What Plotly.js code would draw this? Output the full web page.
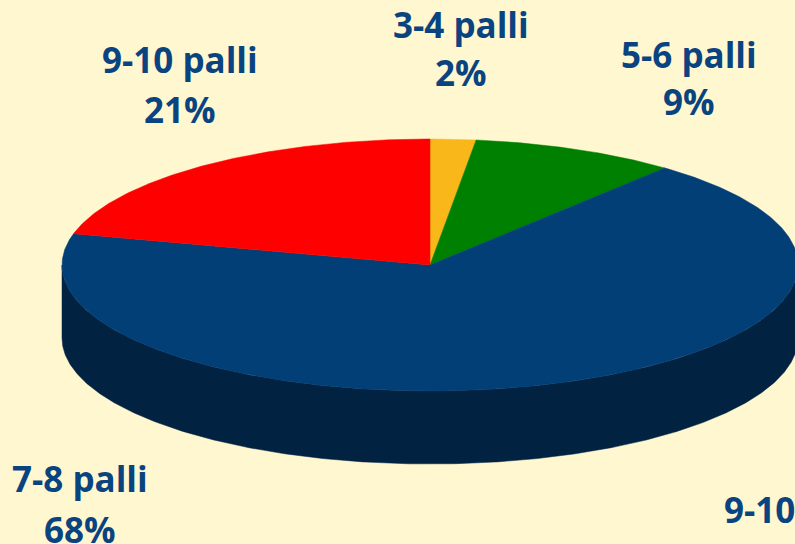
<!DOCTYPE html>
<html>
<head>
<meta charset="utf-8">
<script src="https://cdn.plot.ly/plotly-3.0.1.min.js"></script>
<style>html,body{margin:0;padding:0;background:#FFF7D0;}#chart{width:795px;height:544px;}</style>
</head>
<body>
<div id="chart"></div>
<script>
// ---- data ----
const labels = ['3-4 palli', '5-6 palli', '7-8 palli', '9-10 palli'];
const values = [2, 9, 68, 21];
const topColors = ['#F9B719', '#008000', '#033F77', '#FF0000'];
const sideColors = ['#7C5A0C', '#004000', '#012240', '#800000'];

// ---- layout geometry (pixels) ----
const W = 795, H = 544;
const CX = 430, CY = 265, RX = 368, RY = 126, DEPTH = 73;
const labelPos = [[461, 24, 72], [689, 54, 101], [80, 478, 529], [180, 59, 109]];
const textColor = '#0A4480';
const bg = '#FFF7D0';

function pt(deg, dy) {
  const r = deg * Math.PI / 180;
  return [CX + RX * Math.sin(r), CY - RY * Math.cos(r) + (dy || 0)];
}

const total = values.reduce((a, b) => a + b, 0);
const slices = [];
let acc = 0;
values.forEach((v, i) => {
  const a0 = acc / total * 360;
  acc += v;
  const a1 = acc / total * 360;
  slices.push([a0, a1]);
});

const traces = [];
// side walls (front half: 90..270 deg)
slices.forEach(([a0, a1], i) => {
  const s = Math.max(a0, 90), e = Math.min(a1, 270);
  if (e <= s) return;
  const xs = [], ys = [];
  const n = Math.max(2, Math.ceil((e - s) * 2));
  for (let k = 0; k <= n; k++) { const p = pt(s + (e - s) * k / n); xs.push(p[0]); ys.push(p[1]); }
  for (let k = n; k >= 0; k--) { const p = pt(s + (e - s) * k / n, DEPTH); xs.push(p[0]); ys.push(p[1]); }
  traces.push({x: xs, y: ys, type: 'scatter', mode: 'lines', fill: 'toself',
    fillcolor: sideColors[i], line: {width: 0.5, color: sideColors[i]}, hoverinfo: 'skip', showlegend: false});
});
// top faces
slices.forEach(([a0, a1], i) => {
  const xs = [CX], ys = [CY];
  const n = Math.max(2, Math.ceil((a1 - a0) * 2));
  for (let k = 0; k <= n; k++) { const p = pt(a0 + (a1 - a0) * k / n); xs.push(p[0]); ys.push(p[1]); }
  xs.push(CX); ys.push(CY);
  traces.push({x: xs, y: ys, type: 'scatter', mode: 'lines', fill: 'toself',
    fillcolor: topColors[i], line: {width: 0.5, color: topColors[i]}, hoverinfo: 'skip', showlegend: false});
});

const font = {family: 'Open Sans', size: 35, color: textColor, weight: 'bold'};
const annotations = [];
labels.forEach((lab, i) => {
  const [x, y1, y2] = labelPos[i];
  annotations.push({x: x, y: y1, xref: 'x', yref: 'y', text: lab, showarrow: false, font: font, xanchor: 'center', yanchor: 'middle'});
  annotations.push({x: x, y: y2, xref: 'x', yref: 'y', text: values[i] + '%', showarrow: false, font: font, xanchor: 'center', yanchor: 'middle'});
});
// stray duplicated label cut by the right edge
annotations.push({x: 722, y: 509, xref: 'x', yref: 'y', text: labels[3], showarrow: false, font: font, xanchor: 'left', yanchor: 'middle'});

const layout = {
  width: W, height: H,
  margin: {l: 0, r: 0, t: 0, b: 0},
  paper_bgcolor: bg, plot_bgcolor: bg,
  xaxis: {range: [0, W], visible: false, fixedrange: true},
  yaxis: {range: [H, 0], visible: false, fixedrange: true},
  annotations: annotations,
  showlegend: false
};
Plotly.newPlot('chart', traces, layout, {displayModeBar: false, staticPlot: true});
</script>
</body>
</html>
